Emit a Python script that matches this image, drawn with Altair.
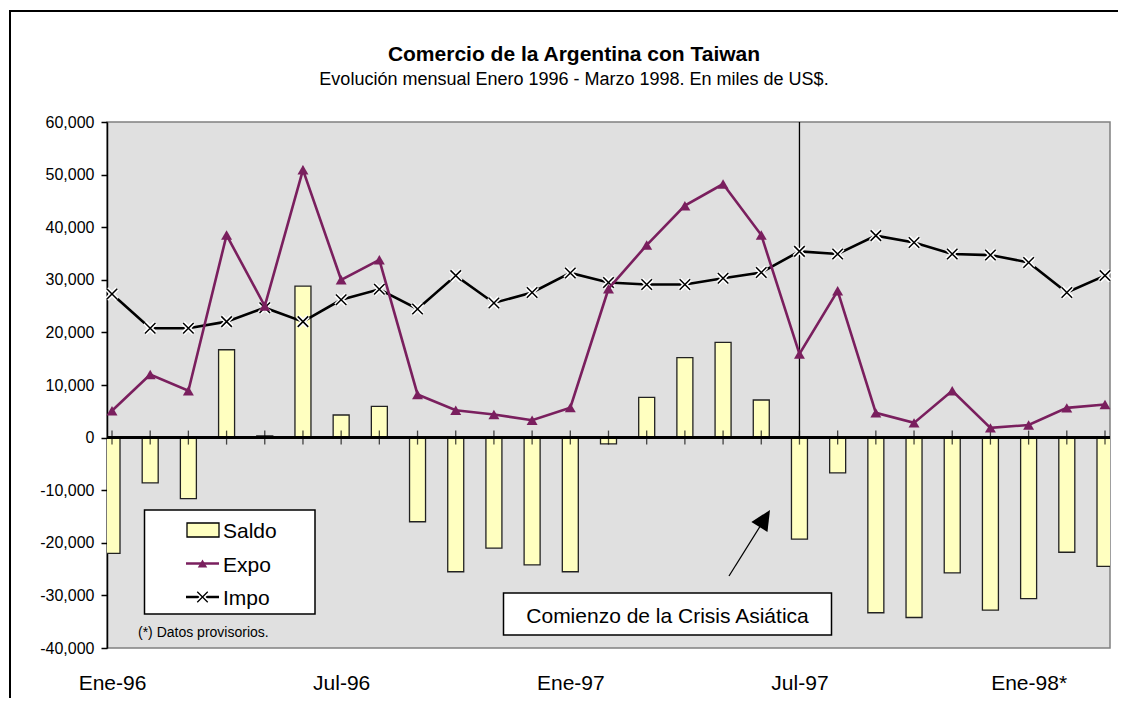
import altair as alt
import pandas as pd

MONTHS = ["Ene-96", "Feb-96", "Mar-96", "Abr-96", "May-96", "Jun-96", "Jul-96", "Ago-96", "Sep-96",
          "Oct-96", "Nov-96", "Dic-96", "Ene-97", "Feb-97", "Mar-97", "Abr-97", "May-97", "Jun-97",
          "Jul-97", "Ago-97", "Sep-97", "Oct-97", "Nov-97", "Dic-97", "Ene-98*", "Feb-98*", "Mar-98*"]
SALDO = [-22000, -8600, -11600, 16700, 300, 28800, 4300, 5950, -16000, -25500, -21000, -24200,
         -25500, -1200, 7650, 15200, 18100, 7150, -19300, -6700, -33300, -34200, -25700, -32800,
         -30600, -21800, -24500]
EXPO = [5100, 12000, 8900, 38500, 25000, 50900, 30000, 33800, 8200, 5200, 4400, 3300, 5700,
        28300, 36600, 44100, 48200, 38500, 15900, 27900, 4700, 2800, 8900, 1850, 2400, 5650, 6300]
IMPO = [27300, 20800, 20800, 22050, 24700, 22050, 26200, 28200, 24450, 30800, 25600, 27600,
        31300, 29500, 29100, 29100, 30300, 31400, 35400, 34900, 38400, 37100, 34900, 34700,
        33300, 27600, 30800]
TICK_LABELS = ["Ene-96", "Jul-96", "Ene-97", "Jul-97", "Ene-98*"]
TICK_STEP = 6
CRISIS_IDX = 18
Y_TICKS = list(range(-40000, 60001, 10000))

TITLE = "Comercio de la Argentina con Taiwan"
SUBTITLE = "Evolución mensual Enero 1996 - Marzo 1998. En miles de US$."
NOTE = "(*) Datos provisorios."
ANNOT = "Comienzo de la Crisis Asiática"

df = pd.DataFrame({"idx": list(range(len(MONTHS))), "mes": MONTHS,
                   "saldo": SALDO, "expo": EXPO, "impo": IMPO})
one = pd.DataFrame({"a": [0]})

EXPO_COLOR = "#7A1F5E"
FONT = "Liberation Sans"
XSHAPE = "M-1,-1L1,1M-1,1L1,-1"
ARROWHEAD = "M0,-1L0.95,1L-0.95,1Z"

xscale = alt.Scale(domain=[0, len(MONTHS) - 1], nice=False, zero=False)
yscale = alt.Scale(domain=[-40000, 60000], nice=False)

label_arr = "[" + ",".join("'" + t + "'" for t in TICK_LABELS) + "]"

x_axis = alt.Axis(values=[i * TICK_STEP for i in range(len(TICK_LABELS))],
                  labelExpr=label_arr + "[round(datum.value/" + str(TICK_STEP) + ")]",
                  domain=False, ticks=False, grid=False, title=None,
                  labelFontSize=21, labelPadding=24, labelColor="black", labelFont=FONT)
y_axis = alt.Axis(values=Y_TICKS, grid=False, title=None,
                  labelExpr="(datum.value < 0 ? '-' : '') + format(abs(datum.value), ',')",
                  domainColor="black", domainWidth=1.5, tickColor="black", tickWidth=1.5,
                  tickSize=6, labelPadding=7, labelFontSize=16, labelColor="black", labelFont=FONT)


def X(field):
    return alt.X(field, scale=xscale, axis=x_axis)


def Y(field):
    return alt.Y(field, scale=yscale, axis=y_axis)


base = alt.Chart(df)

frame_top = alt.Chart(one).mark_rule(color="black", strokeWidth=2).encode(
    x=alt.value(-98), x2=alt.value(1020), y=alt.value(-111))
frame_left = alt.Chart(one).mark_rule(color="black", strokeWidth=2).encode(
    x=alt.value(-97), y=alt.value(-112), y2=alt.value(580))

bars = base.mark_bar(size=16, fill="#FFFFC0", stroke="#222222", strokeWidth=1.3, clip=True).encode(
    x=X("idx:Q"), y=Y("saldo:Q"))

zero_rule = base.mark_rule(color="black", strokeWidth=1.5).encode(
    y=alt.YDatum(0, scale=yscale, axis=y_axis), x=alt.value(0), x2=alt.value(1003))

ticks = base.mark_tick(orient="vertical", size=14, thickness=1.3, color="black").encode(
    x=X("idx:Q"), y=alt.YDatum(0, scale=yscale, axis=y_axis))

crisis = alt.Chart(one).mark_rule(color="black", strokeWidth=1.3).encode(
    x=alt.XDatum(CRISIS_IDX, scale=xscale, axis=x_axis),
    y=alt.YDatum(60000, scale=yscale, axis=y_axis), y2=alt.datum(0))

impo_line = base.mark_line(color="black", strokeWidth=2.6).encode(x=X("idx:Q"), y=Y("impo:Q"))
impo_halo = base.mark_point(shape=XSHAPE, size=110, filled=False, stroke="white", strokeWidth=4.5,
                            opacity=1).encode(x=X("idx:Q"), y=Y("impo:Q"))
impo_pts = base.mark_point(shape=XSHAPE, size=110, filled=False, stroke="black", strokeWidth=1.5,
                           opacity=1).encode(x=X("idx:Q"), y=Y("impo:Q"))

expo_line = base.mark_line(color=EXPO_COLOR, strokeWidth=2.6).encode(x=X("idx:Q"), y=Y("expo:Q"))
expo_pts = base.mark_point(shape="triangle-up", size=120, filled=True, color=EXPO_COLOR,
                           opacity=1).encode(x=X("idx:Q"), y=Y("expo:Q"))


def txt(text, x, y, size, align="left", bold=False):
    return alt.Chart(one).mark_text(text=text, fontSize=size, align=align, baseline="middle",
                                    font=FONT, color="black",
                                    fontWeight="bold" if bold else "normal").encode(
        x=alt.value(x), y=alt.value(y))


def box(x, y, x2, y2, fill="white", sw=1.5):
    return alt.Chart(one).mark_rect(fill=fill, stroke="black", strokeWidth=sw).encode(
        x=alt.value(x), y=alt.value(y), x2=alt.value(x2), y2=alt.value(y2))


title = txt(TITLE, 467, -67, 21, align="center", bold=True)
subtitle = txt(SUBTITLE, 467, -42, 18, align="center")

# legend
leg_box = box(37.5, 388, 208, 492)
leg_saldo = box(80, 401, 112, 415, fill="#FFFFC0", sw=1.3)
leg_expo_line = alt.Chart(one).mark_rule(color=EXPO_COLOR, strokeWidth=2.6).encode(
    x=alt.value(79), x2=alt.value(112), y=alt.value(441.5))
leg_expo_pt = alt.Chart(one).mark_point(shape="triangle-up", size=90, filled=True, color=EXPO_COLOR,
                                        opacity=1).encode(x=alt.value(95.5), y=alt.value(441.5))
leg_impo_line = alt.Chart(one).mark_rule(color="black", strokeWidth=2.6).encode(
    x=alt.value(79), x2=alt.value(112), y=alt.value(475))
leg_impo_halo = alt.Chart(one).mark_point(shape=XSHAPE, size=110, filled=False, stroke="white",
                                          strokeWidth=4.5, opacity=1).encode(
    x=alt.value(95.5), y=alt.value(475))
leg_impo_pt = alt.Chart(one).mark_point(shape=XSHAPE, size=110, filled=False, stroke="black",
                                        strokeWidth=1.3, opacity=1).encode(
    x=alt.value(95.5), y=alt.value(475))
leg_t1 = txt("Saldo", 116, 410, 21)
leg_t2 = txt("Expo", 116, 444, 21)
leg_t3 = txt("Impo", 116, 477, 21)
note = txt(NOTE, 31, 511, 14)

# annotation
ann_box = box(396.5, 471, 724.5, 513)
ann_txt = txt(ANNOT, 560.5, 495, 21, align="center")
arrow_line = alt.Chart(one).mark_rule(color="black", strokeWidth=1.3).encode(
    x=alt.value(622), y=alt.value(454), x2=alt.value(657), y2=alt.value(398))
arrow_head = alt.Chart(one).mark_point(shape=ARROWHEAD, size=400, filled=True, color="black",
                                       opacity=1, angle=32).encode(
    x=alt.value(657.7), y=alt.value(396.5))

chart = alt.layer(
    bars, frame_top, frame_left, zero_rule, ticks, crisis,
    impo_line, impo_halo, impo_pts, expo_line, expo_pts,
    title, subtitle,
    leg_box, leg_saldo, leg_expo_line, leg_expo_pt, leg_impo_line, leg_impo_halo, leg_impo_pt,
    leg_t1, leg_t2, leg_t3, note,
    ann_box, ann_txt, arrow_line, arrow_head,
).properties(
    width=1003, height=526,
    autosize=alt.AutoSizeParams(type="none"),
    padding={"left": 99, "top": 114, "right": 8, "bottom": 50},
    background="white",
).configure(font=FONT).configure_view(
    fill="#E0E0E0", stroke="#808080", strokeWidth=1.5
)

chart.save("out.html", embed_options={"renderer": "svg", "actions": False})
